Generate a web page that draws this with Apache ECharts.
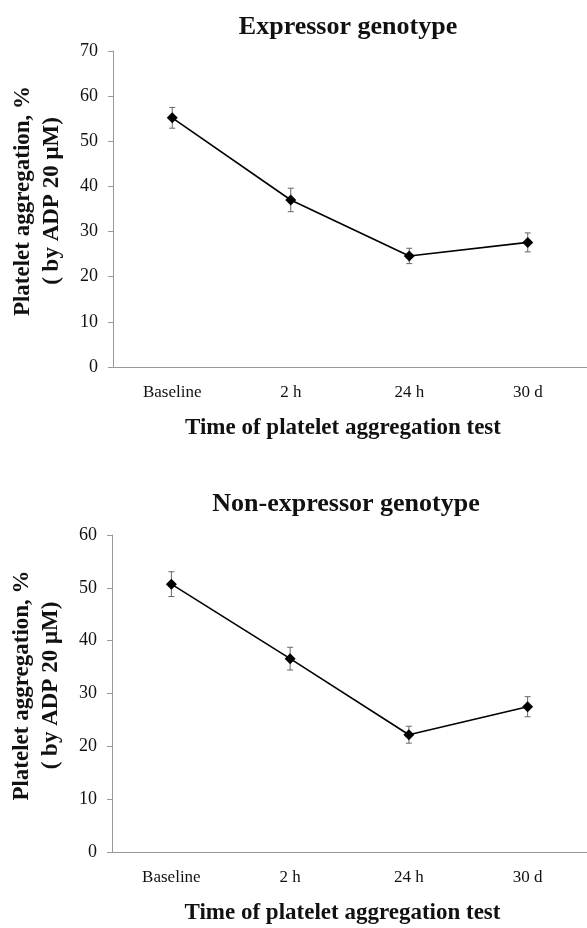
<!DOCTYPE html>
<html><head><meta charset="utf-8">
<script src="https://cdn.jsdelivr.net/npm/echarts@6/dist/echarts.min.js"></script>
<style>html,body{margin:0;padding:0;background:#fff;overflow:hidden}#c{width:587px;height:928px}</style>
</head><body><div id="c"></div>
<script>
const categories = ['Baseline', '2 h', '24 h', '30 d'];
const expressorMean = [55.2, 37.0, 24.6, 27.6];
const expressorErr = [2.3, 2.6, 1.7, 2.1];
const nonExpressorMean = [50.7, 36.6, 22.2, 27.5];
const nonExpressorErr = [2.35, 2.15, 1.6, 1.9];
const titles = ['Expressor genotype', 'Non-expressor genotype'];
const xName = 'Time of platelet aggregation test';
const yName = 'Platelet aggregation, %\n( by ADP 20 \u03bcM)';

const FONT = '"Liberation Serif", "Times New Roman", serif';
const chart = echarts.init(document.getElementById('c'), null, {renderer: 'canvas'});

function errData(mean, err) { return mean.map((m, i) => [i, m - err[i], m + err[i]]); }
function renderErr(params, api) {
  const lo = api.coord([api.value(0), api.value(1)]);
  const hi = api.coord([api.value(0), api.value(2)]);
  const w = 3;
  const st = {stroke: '#666', lineWidth: 1};
  return {type: 'group', children: [
    {type: 'line', shape: {x1: lo[0], y1: lo[1], x2: hi[0], y2: hi[1]}, style: st},
    {type: 'line', shape: {x1: lo[0]-w, y1: lo[1], x2: lo[0]+w, y2: lo[1]}, style: st},
    {type: 'line', shape: {x1: hi[0]-w, y1: hi[1], x2: hi[0]+w, y2: hi[1]}, style: st}
  ]};
}

const AX = '#999';
function xAxis(gi) {
  return {
    type: 'category', gridIndex: gi, data: categories, boundaryGap: true,
    axisLine: {lineStyle: {color: AX, width: 1}},
    axisTick: {lineStyle: {color: AX}, length: 5},
    splitLine: {show: false},
    axisLabel: {color: '#111', fontFamily: FONT, fontSize: 17, margin: 17},
    name: xName, nameLocation: 'middle', nameGap: 50,
    nameTextStyle: {color: '#111', fontFamily: FONT, fontSize: 23, fontWeight: 'bold', padding: [0, 14, 0, 0]}
  };
}
function yAxis(gi, max) {
  return {
    type: 'value', gridIndex: gi, min: 0, max: max, interval: 10,
    axisLine: {show: true, lineStyle: {color: AX, width: 1}},
    axisTick: {show: true, lineStyle: {color: AX}, length: 5},
    splitLine: {show: false},
    axisLabel: {color: '#111', fontFamily: FONT, fontSize: 18, margin: 15},
    name: yName, nameLocation: 'middle', nameRotate: 90, nameGap: 46,
    nameTextStyle: {color: '#111', fontFamily: FONT, fontSize: 23, fontWeight: 'bold', lineHeight: 29, padding: [0, 0, 0, 16]}
  };
}
function lineSeries(gi, data) {
  return {type: 'line', xAxisIndex: gi, yAxisIndex: gi, data: data,
    symbol: 'diamond', symbolSize: 11, itemStyle: {color: '#000'},
    lineStyle: {color: '#000', width: 1.6}, z: 3, animation: false};
}
function errSeries(gi, mean, err) {
  return {type: 'custom', xAxisIndex: gi, yAxisIndex: gi, data: errData(mean, err),
    renderItem: renderErr, encode: {x: 0, y: [1, 2]}, z: 2, animation: false};
}

chart.setOption({
  backgroundColor: '#fff',
  animation: false,
  title: [
    {text: titles[0], left: 343, top: 9, textAlign: 'center',
     textStyle: {fontFamily: FONT, fontSize: 26, fontWeight: 'bold', color: '#111'}},
    {text: titles[1], left: 341, top: 486, textAlign: 'center',
     textStyle: {fontFamily: FONT, fontSize: 26, fontWeight: 'bold', color: '#111'}}
  ],
  grid: [
    {left: 113, top: 51, width: 476, height: 316},
    {left: 110.5, top: 535, width: 477, height: 317}
  ],
  xAxis: [xAxis(0), xAxis(1)],
  yAxis: [yAxis(0, 70), yAxis(1, 60)],
  series: [
    errSeries(0, expressorMean, expressorErr),
    lineSeries(0, expressorMean),
    errSeries(1, nonExpressorMean, nonExpressorErr),
    lineSeries(1, nonExpressorMean)
  ]
});
</script></body></html>
